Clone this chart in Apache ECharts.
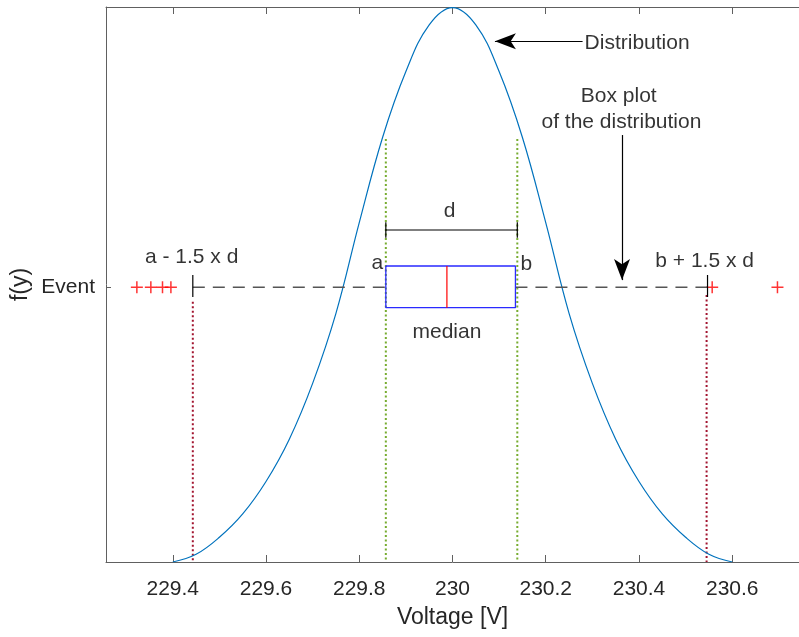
<!DOCTYPE html>
<html>
<head>
<meta charset="utf-8">
<script src="https://cdn.jsdelivr.net/npm/echarts@6/dist/echarts.min.js"></script>
<style>
html, body { margin: 0; padding: 0; background: #fff; }
#main { width: 799px; height: 637px; }
</style>
</head>
<body>
<div id="main"></div>
<script>
// distribution curve
var curveX = [229.40, 229.45, 229.50, 229.55, 229.60, 229.65, 229.70, 229.75, 229.80, 229.85, 229.90, 229.95, 230.00,
              230.05, 230.10, 230.15, 230.20, 230.25, 230.30, 230.35, 230.40, 230.45, 230.50, 230.55, 230.60];
var curveY = [0.000, 0.028, 0.090, 0.175, 0.293, 0.447, 0.650, 0.905, 1.235, 1.545, 1.785, 1.955, 2.018,
              1.955, 1.785, 1.545, 1.235, 0.905, 0.650, 0.447, 0.293, 0.175, 0.090, 0.028, 0.000];

// x ticks
var tickValues = [229.4, 229.6, 229.8, 230, 230.2, 230.4, 230.6];

// box plot: lower whisker, q1, median, q3, upper whisker
var boxStats = [229.443, 229.857, 229.988, 230.135, 230.547];
var outliersX = [229.323, 229.353, 229.378, 229.396, 230.557, 230.697];
var eventLevel = 1;

// quartile lines a / b and the a-1.5d / b+1.5d limits
var quartileLines = [229.857, 230.139];
var limitLines = [229.443, 230.545];

// annotations [text, x, y]
var noteText = ['a - 1.5 x d', 'a', 'b', 'b + 1.5 x d', 'd', 'median', 'Distribution', 'Box plot', 'of the distribution'];
var noteX = [229.4405, 229.839, 230.1586, 230.5408, 229.994, 229.988, 230.396, 230.3565, 230.3623];
var noteY = [1.1095, 1.088, 1.083, 1.093, 1.275, 0.838, 1.89, 1.696, 1.599];

var myChart = echarts.init(document.getElementById('main'));
var FONT = '"Liberation Sans", Arial, Helvetica, sans-serif';

// helper for plain line segments
function seg(pts, color, type, width) {
    return {
        type: 'line',
        data: pts,
        symbol: 'none',
        silent: true,
        animation: false,
        lineStyle: { color: color, type: type, width: width }
    };
}

var curveData = [];
for (var i = 0; i < curveX.length; i++) {
    curveData.push([curveX[i], curveY[i]]);
}

var q1 = boxStats[1], med = boxStats[2], q3 = boxStats[3];
var boxTop = 1.0774, boxBot = 0.9256;
var dLevel = 1.2083;

var series = [];

// dotted guide lines
series.push(seg([[quartileLines[0], 1.54], [quartileLines[0], 0]], '#77ac30', [2, 2.5], 2));
series.push(seg([[quartileLines[1], 1.54], [quartileLines[1], 0]], '#77ac30', [2, 2.5], 2));
series.push(seg([[limitLines[0], 0.947], [limitLines[0], 0]], '#a2142f', [2, 2.5], 2));
series.push(seg([[limitLines[1], 0.972], [limitLines[1], 0]], '#a2142f', [2, 2.5], 2));

// distribution curve
series.push({
    type: 'line',
    data: curveData,
    smooth: 0.4,
    symbol: 'none',
    silent: true,
    animation: false,
    lineStyle: { color: '#0072bd', width: 1.2 },
    markLine: {
        silent: true,
        animation: false,
        symbol: ['none', 'arrow'],
        symbolSize: [12, 21],
        label: { show: false },
        lineStyle: { color: '#000', width: 1.2, type: 'solid' },
        emphasis: { disabled: true },
        data: [
            [{ coord: [230.279, 1.895] }, { coord: [230.091, 1.895] }],
            [{ coord: [230.3636, 1.554] }, { coord: [230.3636, 1.026] }]
        ]
    }
});

// whiskers
series.push(seg([[boxStats[0], eventLevel], [q1, eventLevel]], '#555', [12, 8], 1.3));
series.push(seg([[q3, eventLevel], [boxStats[4], eventLevel]], '#555', [12, 8], 1.3));
// caps
series.push(seg([[boxStats[0], 0.9645], [boxStats[0], 1.0446]], '#000', 'solid', 1.2));
series.push(seg([[boxStats[4], 0.9645], [boxStats[4], 1.0446]], '#000', 'solid', 1.2));
// box
series.push(seg([[q1, boxTop], [q3, boxTop], [q3, boxBot], [q1, boxBot], [q1, boxTop]], '#2a2aff', 'solid', 1.3));
// median
series.push(seg([[med, boxTop], [med, boxBot]], '#ff0000', 'solid', 1.2));
// d bracket
series.push(seg([[quartileLines[0], dLevel], [quartileLines[1], dLevel]], '#000', 'solid', 1.2));
series.push(seg([[quartileLines[0], dLevel - 0.028], [quartileLines[0], dLevel + 0.028]], '#000', 'solid', 1.2));
series.push(seg([[quartileLines[1], dLevel - 0.028], [quartileLines[1], dLevel + 0.028]], '#000', 'solid', 1.2));

// outliers
var outData = [];
for (var j = 0; j < outliersX.length; j++) {
    outData.push([outliersX[j], eventLevel]);
}
series.push({
    type: 'scatter',
    data: outData,
    symbol: 'path://M0,-1L0,1M-1,0L1,0',
    symbolSize: 12,
    silent: true,
    animation: false,
    itemStyle: { color: '#ff0000', borderColor: '#ff0000', borderWidth: 1.5 }
});

// text notes
var noteData = [];
for (var k = 0; k < noteText.length; k++) {
    noteData.push({ name: noteText[k], value: [noteX[k], noteY[k]] });
}
series.push({
    type: 'scatter',
    data: noteData,
    symbolSize: 1,
    silent: true,
    animation: false,
    itemStyle: { color: 'transparent' },
    label: {
        show: true,
        position: 'inside',
        formatter: '{b}',
        color: '#000',
        fontSize: 21,
        fontFamily: FONT
    }
});

var axisColor = '#606060';
var option = {
    backgroundColor: '#fff',
    animation: false,
    textStyle: { fontFamily: FONT },
    grid: { left: 106, right: 0, top: 7, bottom: 75, containLabel: false, outerBoundsMode: 'none' },
    xAxis: [{
        type: 'value',
        min: 229.2568,
        max: 230.7432,
        position: 'bottom',
        name: 'Voltage [V]',
        nameLocation: 'middle',
        nameGap: 44,
        nameMoveOverlap: false,
        nameTextStyle: { color: '#262626', fontSize: 23, fontFamily: FONT },
        axisLine: { lineStyle: { color: axisColor, width: 1 } },
        axisTick: { show: true, inside: true, length: 7, customValues: tickValues, lineStyle: { color: axisColor } },
        axisLabel: {
            customValues: tickValues,
            margin: 17,
            color: '#262626',
            fontSize: 21,
            fontFamily: FONT,
            formatter: function (v) { return String(Math.round(v * 10) / 10); }
        },
        splitLine: { show: false }
    }, {
        type: 'value',
        min: 229.2568,
        max: 230.7432,
        position: 'top',
        axisLine: { lineStyle: { color: axisColor, width: 1 } },
        axisTick: { show: true, inside: true, length: 7, customValues: tickValues, lineStyle: { color: axisColor } },
        axisLabel: { show: false },
        splitLine: { show: false }
    }],
    yAxis: {
        type: 'value',
        min: 0,
        max: 2.02,
        name: 'f(y)',
        nameLocation: 'middle',
        nameGap: 74,
        nameMoveOverlap: false,
        nameTextStyle: { color: '#262626', fontSize: 23, fontFamily: FONT },
        axisLine: { show: true, lineStyle: { color: axisColor, width: 1 } },
        axisTick: { show: true, inside: true, length: 5, customValues: [eventLevel], lineStyle: { color: axisColor } },
        axisLabel: {
            customValues: [eventLevel],
            margin: 11,
            color: '#262626',
            fontSize: 21,
            fontFamily: FONT,
            formatter: function () { return 'Event'; }
        },
        splitLine: { show: false }
    },
    series: series
};
myChart.setOption(option);
</script>
</body>
</html>
